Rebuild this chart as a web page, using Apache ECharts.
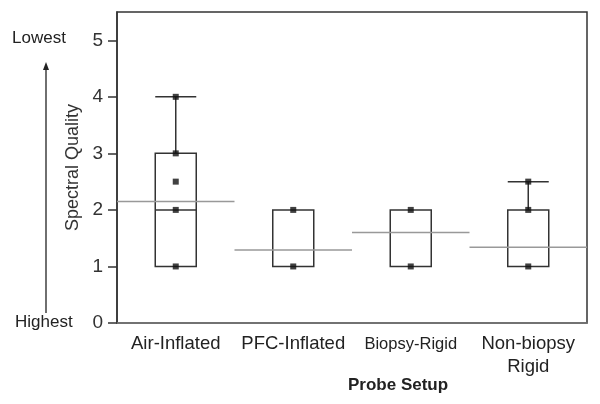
<!DOCTYPE html>
<html lang='en'>
  <head>
    <meta charset='utf-8'>
    <title>Spectral Quality by Probe Setup</title>
  </head>
  <body style="margin:0;background:#fff;">
    <div id="main" style="width:600px;height:404px;"></div>
    <script src="https://cdn.jsdelivr.net/npm/echarts@6/dist/echarts.min.js"></script>
    <script>
      // categories and values
      var categories = ['Air-Inflated', 'PFC-Inflated', 'Biopsy-Rigid', 'Non-biopsy\nRigid'];
      // [min, Q1, median, Q3, max]
      var boxData = [
        [1, 1, 2, 3, 4],
        [1, 1, 1, 2, 2],
        [1, 1, 2, 2, 2],
        [1, 1, 1, 2, 2.5]
      ];
      var meanValues = [2.15, 1.29, 1.6, 1.34];
      // individual scores as [category index, score]
      var points = [
        [0, 1], [0, 2], [0, 2.5], [0, 3], [0, 4],
        [1, 1], [1, 2],
        [2, 1], [2, 2],
        [3, 1], [3, 2], [3, 2.5]
      ];
      var yTicks = [0, 1, 2, 3, 4, 5];

      var myChart = echarts.init(document.getElementById('main'));

      var option = {
        backgroundColor: '#fff',
        animation: false,
        grid: {
          left: 117,
          top: 12,
          width: 470,
          height: 311,
          show: true,
          borderColor: '#333',
          borderWidth: 1.5,
          backgroundColor: 'transparent'
        },
        xAxis: {
          type: 'category',
          data: categories,
          axisLine: { lineStyle: { color: '#777', width: 1.5 } },
          axisTick: { inside: true, length: 2, lineStyle: { color: '#777' } },
          axisLabel: {
            interval: 0,
            color: '#222',
            fontSize: 18.5,
            margin: 9,
            lineHeight: 23,
            fontFamily: 'Liberation Sans',
            formatter: function(v) {
              if (v === 'Biopsy-Rigid') return '{s|' + v + '}';
              return v;
            },
            rich: {
              s: { fontSize: 16.5, fontFamily: 'Liberation Sans', color: '#222', padding: [2, 0, 0, 0] }
            }
          },
          splitLine: { show: false }
        },
        yAxis: {
          type: 'value',
          min: 0,
          max: 5.5,
          interval: 1,
          name: 'Spectral Quality',
          nameLocation: 'middle',
          nameGap: 31,
          nameTextStyle: { fontSize: 18, color: '#333', fontFamily: 'Liberation Sans' },
          axisLine: { show: true, lineStyle: { color: '#333', width: 1.5 } },
          axisTick: { show: true, length: 9, customValues: yTicks, lineStyle: { color: '#333', width: 1.5 } },
          axisLabel: {
            color: '#333',
            fontSize: 19,
            margin: 14,
            fontFamily: 'Liberation Sans',
            customValues: yTicks
          },
          splitLine: { show: false }
        },
        graphic: [
          { type: 'text', left: 12, top: 30, style: { text: 'Lowest', fontSize: 17, fill: '#222', fontFamily: 'Liberation Sans' } },
          { type: 'text', left: 15, top: 314, style: { text: 'Highest', fontSize: 17, fill: '#222', fontFamily: 'Liberation Sans' } },
          { type: 'line', shape: { x1: 46, y1: 313, x2: 46, y2: 68 }, style: { stroke: '#222', lineWidth: 1.3 } },
          { type: 'polygon', shape: { points: [[46, 62], [43, 70], [49, 70]] }, style: { fill: '#222' } },
          { type: 'text', left: 348, top: 377, style: { text: 'Probe Setup', fontSize: 17, fontWeight: 'bold', fill: '#222', fontFamily: 'Liberation Sans' } }
        ],
        series: [
          {
            type: 'boxplot',
            data: boxData,
            boxWidth: [41, 41],
            itemStyle: { color: '#fff', borderColor: '#333', borderWidth: 1.5 },
            emphasis: { disabled: true }
          },
          {
            type: 'custom',
            data: meanValues.map(function(v, i) { return [i, v]; }),
            renderItem: function(params, api) {
              var p = api.coord([api.value(0), api.value(1)]);
              var w = api.size([1, 0])[0];
              return {
                type: 'line',
                shape: { x1: p[0] - w / 2, y1: p[1], x2: p[0] + w / 2, y2: p[1] },
                style: { stroke: '#999', lineWidth: 1.5 }
              };
            },
            z: 3
          },
          {
            type: 'scatter',
            data: points,
            symbol: 'rect',
            symbolSize: 6,
            itemStyle: { color: '#111' },
            z: 4
          }
        ]
      };

      myChart.setOption(option);
    </script>
  </body>
</html>
